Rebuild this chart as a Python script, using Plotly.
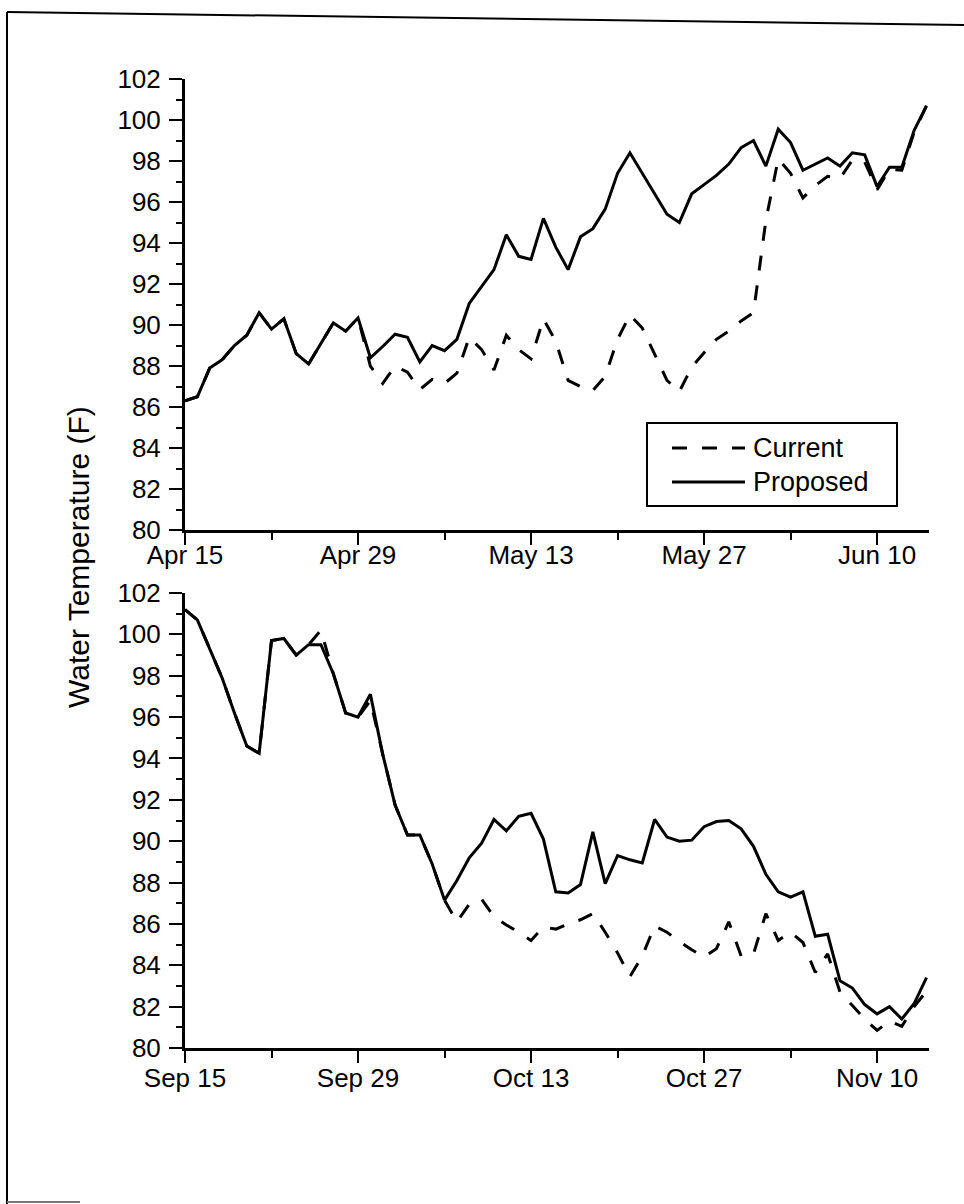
import pandas as pd
import plotly.graph_objects as go

# ---------------- data ----------------
spring_dates = pd.date_range("2002-04-15", periods=61, freq="D")
fall_dates = pd.date_range("2002-09-15", periods=61, freq="D")

spring_proposed = [86.3, 86.5, 87.9, 88.3, 89.0, 89.5, 90.6, 89.8, 90.3, 88.6,
                   88.1, 89.1, 90.1, 89.7, 90.35, 88.4, 88.95, 89.55, 89.4, 88.2,
                   89.0, 88.75, 89.3, 91.05, 91.9, 92.7, 94.4, 93.35, 93.2, 95.2,
                   93.8, 92.7, 94.3, 94.7, 95.65, 97.4, 98.4, 97.4, 96.35, 95.4,
                   95.0, 96.4, 96.85, 97.3, 97.85, 98.65, 99.0, 97.75, 99.55, 98.9,
                   97.55, 97.85, 98.15, 97.75, 98.4, 98.3, 96.75, 97.7, 97.7, 99.5,
                   100.7]
spring_current = [86.3, 86.5, 87.9, 88.3, 89.0, 89.5, 90.6, 89.8, 90.3, 88.6,
                  88.1, 89.1, 90.1, 89.7, 90.35, 88.0, 87.15, 88.0, 87.7, 86.85,
                  87.35, 87.15, 87.65, 89.4, 88.8, 87.8, 89.5, 88.8, 88.35, 90.3,
                  89.2, 87.3, 87.0, 86.8, 87.5, 89.3, 90.5, 89.85, 88.6, 87.3,
                  86.75, 87.95, 88.65, 89.3, 89.7, 90.2, 90.6, 95.1, 98.1, 97.4,
                  96.2, 96.8, 97.25, 97.15, 98.05, 97.95, 96.6, 97.6, 97.55, 99.4,
                  100.7]

fall_proposed = [101.2, 100.7, 99.3, 97.9, 96.2, 94.6, 94.25, 99.7, 99.8, 99.0,
                 99.5, 99.5, 98.1, 96.2, 96.0, 97.1, 94.2, 91.75, 90.3, 90.3,
                 88.9, 87.15, 88.1, 89.2, 89.9, 91.05, 90.5, 91.2, 91.35, 90.1,
                 87.55, 87.5, 87.9, 90.45, 87.95, 89.3, 89.1, 88.95, 91.05, 90.2,
                 90.0, 90.05, 90.7, 90.95, 91.0, 90.6, 89.75, 88.4, 87.55, 87.3,
                 87.55, 85.4, 85.5, 83.25, 82.9, 82.1, 81.65, 82.0, 81.4, 82.15,
                 83.4]
fall_current = [101.2, 100.7, 99.3, 97.9, 96.2, 94.6, 94.25, 99.7, 99.8, 99.0,
                99.5, 100.2, 98.1, 96.2, 96.0, 96.8, 94.2, 91.75, 90.3, 90.3,
                88.9, 87.15, 86.1, 86.95, 87.2, 86.35, 85.95, 85.6, 85.2, 85.85,
                85.75, 86.0, 86.2, 86.5, 85.6, 84.6, 83.45, 84.45, 85.9, 85.6,
                85.15, 84.75, 84.4, 84.8, 86.1, 84.45, 84.55, 86.5, 85.2, 85.6,
                85.1, 83.65, 84.55, 82.7, 82.05, 81.4, 80.85, 81.3, 81.05, 82.0,
                82.75]

y_ticks = [80, 82, 84, 86, 88, 90, 92, 94, 96, 98, 100, 102]
series_names = ["Current", "Proposed"]
y_title = "Water Temperature (F)"

# ---------------- styling helpers ----------------
W, H = 964, 1204
FONT = "Liberation Sans, Arial, Helvetica, sans-serif"
DASH = "15px,15px"
DAY_MS = 86400000


def px_x(x):
    return x / W


def px_y(y):
    return 1 - y / H


fig = go.Figure()

for xs, cur, prop, xa, ya in [
    (spring_dates, spring_current, spring_proposed, "x", "y"),
    (fall_dates, fall_current, fall_proposed, "x2", "y2"),
]:
    fig.add_trace(go.Scatter(x=xs, y=prop, mode="lines", name=series_names[1],
                             line=dict(color="black", width=3),
                             showlegend=False, xaxis=xa, yaxis=ya))
    fig.add_trace(go.Scatter(x=xs, y=cur, mode="lines", name=series_names[0],
                             line=dict(color="black", width=3, dash=DASH),
                             showlegend=False, xaxis=xa, yaxis=ya))


def xaxis_cfg(start, anchor, standoff):
    t0 = pd.Timestamp(start)
    return dict(
        domain=[px_x(185), px_x(929)], anchor=anchor, type="date",
        range=[t0, t0 + pd.Timedelta(hours=60.2 * 24)],
        tick0=t0, dtick=14 * DAY_MS, tickformat="%b %d",
        ticks="outside", ticklen=12, tickwidth=2, tickcolor="black",
        showline=True, linewidth=3, linecolor="black",
        showgrid=False, zeroline=False, automargin=False,
        ticklabelstandoff=standoff,
        tickfont=dict(family=FONT, size=26, color="black"),
        minor=dict(tick0=t0, dtick=7 * DAY_MS, ticks="outside", ticklen=7,
                   tickwidth=2, tickcolor="black", showgrid=False),
    )


def yaxis_cfg(top_px, bottom_px, anchor):
    return dict(
        domain=[px_y(bottom_px), px_y(top_px)], anchor=anchor,
        range=[80, 102], tickvals=y_ticks,
        ticks="outside", ticklen=13, tickwidth=2, tickcolor="black",
        showline=True, linewidth=3, linecolor="black",
        showgrid=False, zeroline=False, ticklabelstandoff=3, automargin=False,
        tickfont=dict(family=FONT, size=26, color="black"),
        minor=dict(tick0=80, dtick=1, ticks="outside", ticklen=6,
                   tickwidth=2, tickcolor="black", showgrid=False),
    )


shapes = [
    # scanned page border
    dict(type="line", xref="paper", yref="paper", x0=px_x(7), y0=px_y(12),
         x1=px_x(7), y1=px_y(1204), line=dict(color="black", width=2)),
    dict(type="line", xref="paper", yref="paper", x0=px_x(7), y0=px_y(12),
         x1=px_x(964), y1=px_y(25), line=dict(color="black", width=2)),
    dict(type="line", xref="paper", yref="paper", x0=px_x(7), y0=px_y(1202),
         x1=px_x(80), y1=px_y(1202), line=dict(color="#777", width=2)),
    # legend box
    dict(type="rect", xref="paper", yref="paper", x0=px_x(647), y0=px_y(506),
         x1=px_x(897), y1=px_y(423), line=dict(color="black", width=2),
         fillcolor="white"),
    dict(type="line", xref="paper", yref="paper", x0=px_x(672), y0=px_y(448),
         x1=px_x(745), y1=px_y(448), line=dict(color="black", width=3, dash=DASH)),
    dict(type="line", xref="paper", yref="paper", x0=px_x(672), y0=px_y(482),
         x1=px_x(745), y1=px_y(482), line=dict(color="black", width=3)),
]

annotations = [
    dict(text=y_title, xref="paper", yref="paper", x=px_x(78), y=px_y(557),
         xanchor="center", yanchor="middle", textangle=-90, showarrow=False,
         font=dict(family=FONT, size=30, color="black")),
    dict(text=series_names[0], xref="paper", yref="paper", x=px_x(751), y=px_y(448),
         xanchor="left", yanchor="middle", showarrow=False,
         font=dict(family=FONT, size=27, color="black")),
    dict(text=series_names[1], xref="paper", yref="paper", x=px_x(751), y=px_y(482),
         xanchor="left", yanchor="middle", showarrow=False,
         font=dict(family=FONT, size=27, color="black")),
]

fig.update_layout(
    template="none",
    width=W, height=H, autosize=False,
    margin=dict(l=0, r=0, t=0, b=0, pad=0, autoexpand=False),
    paper_bgcolor="white", plot_bgcolor="white",
    showlegend=False,
    xaxis=xaxis_cfg("2002-04-15", "y", -12),
    yaxis=yaxis_cfg(79, 530, "x"),
    xaxis2=xaxis_cfg("2002-09-15", "y2", -7),
    yaxis2=yaxis_cfg(593, 1048, "x2"),
    shapes=shapes,
    annotations=annotations,
    font=dict(family=FONT, color="black"),
)

fig.write_html("out.html",
               config={"displayModeBar": False},
               post_script="document.body.style.margin='0px';"
                           "document.body.style.overflow='hidden';")
